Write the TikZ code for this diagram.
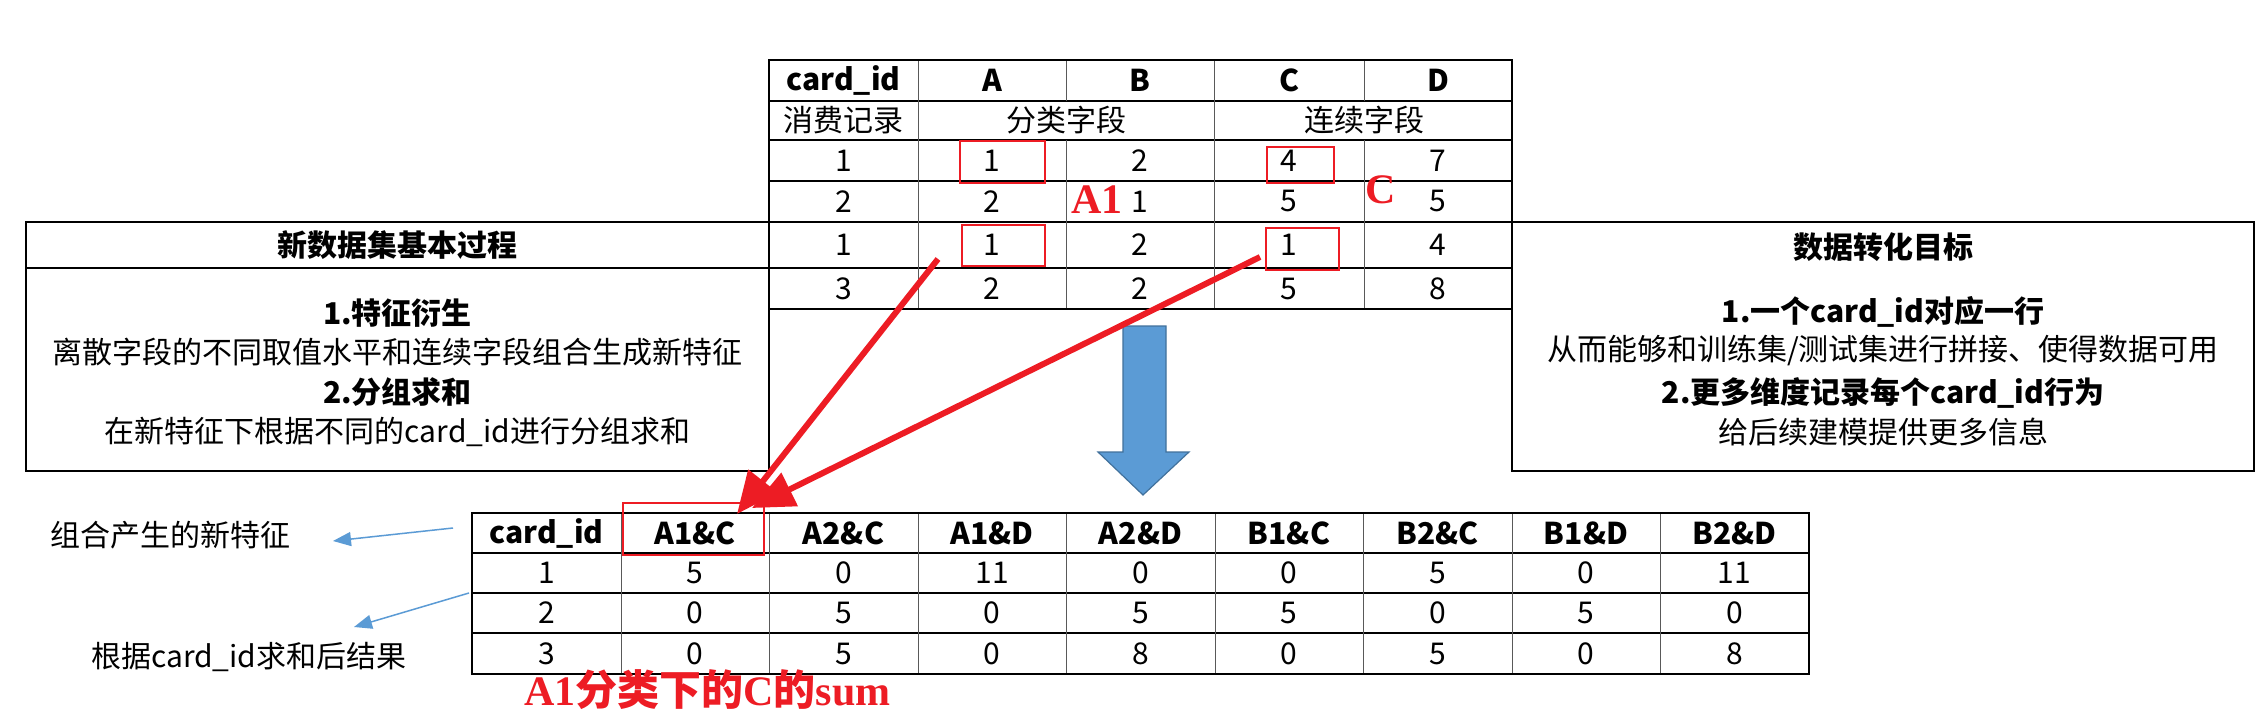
\documentclass[tikz,border=0pt]{standalone}
\usepackage{fontspec}
\setmainfont{Noto Sans CJK SC}
\newfontfamily\serifb{Liberation Serif}
\usetikzlibrary{arrows.meta}
\definecolor{myred}{HTML}{ED1C24}
\definecolor{myblue}{HTML}{5B9BD5}
\definecolor{myblueedge}{HTML}{41719C}
\definecolor{thinblue}{HTML}{5B9BD5}
\begin{document}
\begin{tikzpicture}[x=1pt,y=-1pt,
  txt/.style={inner sep=0pt,font=\fontsize{30}{36}\selectfont},
  btxt/.style={inner sep=0pt,font=\fontsize{30}{36}\selectfont\bfseries},
  redbox/.style={draw=myred,line width=2.5pt},
  redlbl/.style={inner sep=0pt,text=myred,font=\fontsize{42}{48}\selectfont\bfseries},
  grid/.style={line width=1.2pt,black},
  gridv/.style={line width=1pt,gray!70!black},
  redarrow/.style={draw=myred,line width=6pt,-{Triangle[length=42pt,width=36pt]}},
  bluearrow/.style={draw=thinblue,line width=1.5pt,-{Triangle[length=18pt,width=14pt]}}]
\useasboundingbox (0,0) rectangle (2260,722);
\fill[white] (0,0) rectangle (2260,722);

% ---------- top table ----------
\foreach \y in {101,140,181,222,268} \draw[grid] (769,\y) -- (1512,\y);
\draw[gridv] (918,60) -- (918,309);
\draw[gridv] (1066,60) -- (1066,101);
\draw[gridv] (1066,140) -- (1066,309);
\draw[gridv] (1214,60) -- (1214,309);
\draw[gridv] (1364,60) -- (1364,101);
\draw[gridv] (1364,140) -- (1364,309);
\draw[line width=1.6pt] (769,60) rectangle (1512,309);
\node[btxt] (hcid) at (843.5,80.5) {card\_id};
\node[btxt] (hA) at (992,80.5) {A};
\node[btxt] (hB) at (1140,80.5) {B};
\node[btxt] (hC) at (1289,80.5) {C};
\node[btxt] (hD) at (1438,80.5) {D};
\node[txt] (rec) at (843.5,120.5) {消费记录};
\node[txt] (cat) at (1066,120.5) {分类字段};
\node[txt] (con) at (1364,120.5) {连续字段};
\foreach \r/\yc/\a/\b/\c/\d/\e in {1/160.5/1/1/2/4/7, 2/201.5/2/2/1/5/5, 3/245/1/1/2/1/4, 4/288.5/3/2/2/5/8}{
  \node[txt] (t\r0) at (843.5,\yc) {\a};
  \node[txt] (t\r1) at (992,\yc) {\b};
  \node[txt] (t\r2) at (1140,\yc) {\c};
  \node[txt] (t\r3) at (1289,\yc) {\d};
  \node[txt] (t\r4) at (1438,\yc) {\e};
}
\draw[redbox] (960,141) rectangle (1045,183);
\draw[redbox] (962,225) rectangle (1045,266);
\draw[redbox] (1267,147) rectangle (1334,183);
\draw[redbox] (1266,228) rectangle (1339,270);
\node[redlbl,font=\fontsize{42}{48}\selectfont\serifb\bfseries] (lA1) at (1097,200) {A1};
\node[redlbl,font=\fontsize{42}{48}\selectfont\serifb\bfseries] (lC) at (1381,190) {C};

% ---------- left box ----------
\draw[line width=1.6pt] (26,222) rectangle (769,471);
\draw[line width=1.6pt] (26,268) -- (769,268);
\node[btxt] (ltitle) at (397.5,245) {新数据集基本过程};
\node[btxt] (l1) at (397.5,313) {1.特征衍生};
\node[txt] (l2) at (397.5,352) {离散字段的不同取值水平和连续字段组合生成新特征};
\node[btxt] (l3) at (397.5,392) {2.分组求和};
\node[txt] (l4) at (397.5,432) {在新特征下根据不同的card\_id进行分组求和};

% ---------- right box ----------
\draw[line width=1.6pt] (1512,222) rectangle (2254,471);
\node[btxt] (rtitle) at (1883,247) {数据转化目标};
\node[btxt] (r1) at (1883,312) {1.一个card\_id对应一行};
\node[txt] (r2) at (1883,351) {从而能够和训练集/测试集进行拼接、使得数据可用};
\node[btxt] (r3) at (1883,393) {2.更多维度记录每个card\_id行为};
\node[txt] (r4) at (1883,432) {给后续建模提供更多信息};

% ---------- blue block arrow ----------
\draw[fill=myblue,draw=myblueedge,line width=1.2pt]
  (1123,326) -- (1166,326) -- (1166,452) -- (1189,452) -- (1143,495) -- (1098,452) -- (1123,452) -- cycle;

% ---------- bottom table ----------
\foreach \y in {553,593,633} \draw[grid] (472,\y) -- (1809,\y);
\foreach \x in {621,769,918,1066,1215,1363,1512,1660} \draw[gridv] (\x,513) -- (\x,674);
\draw[line width=1.6pt] (472,513) rectangle (1809,674);
\foreach \i/\x/\h in {0/546.5/card\_id,1/695/A1\&C,2/843.5/A2\&C,3/992/A1\&D,4/1140.5/A2\&D,5/1289/B1\&C,6/1437.5/B2\&C,7/1586/B1\&D,8/1734.5/B2\&D}
  \node[btxt] (b0\i) at (\x,533) {\h};
\foreach \r/\yc/\a/\b/\c/\d/\e/\f/\g/\h/\k in {1/573/1/5/0/11/0/0/5/0/11, 2/613/2/0/5/0/5/5/0/5/0, 3/653.5/3/0/5/0/8/0/5/0/8}{
  \node[txt] (b\r0) at (546.5,\yc) {\a};
  \node[txt] (b\r1) at (695,\yc) {\b};
  \node[txt] (b\r2) at (843.5,\yc) {\c};
  \node[txt] (b\r3) at (992,\yc) {\d};
  \node[txt] (b\r4) at (1140.5,\yc) {\e};
  \node[txt] (b\r5) at (1289,\yc) {\f};
  \node[txt] (b\r6) at (1437.5,\yc) {\g};
  \node[txt] (b\r7) at (1586,\yc) {\h};
  \node[txt] (b\r8) at (1734.5,\yc) {\k};
}
\draw[redbox] (623,503) rectangle (764,555);
\node[redlbl,anchor=west] (sumlbl) at (524,690) {{\serifb A1}分类下的{\serifb C}的{\serifb sum}};

% ---------- red arrows ----------
\coordinate (ra1s) at (938,259);
\coordinate (ra1e) at (737,514);
\coordinate (ra2s) at (1260,257);
\coordinate (ra2e) at (752,508);
\draw[redarrow] (ra1s) -- (ra1e);
\draw[redarrow] (ra2s) -- (ra2e);

% ---------- side labels ----------
\node[txt,anchor=west] (newfeat) at (50,535) {组合产生的新特征};
\node[txt,anchor=west] (result) at (91,657) {根据card\_id求和后结果};
\coordinate (ba1s) at (453,528);
\coordinate (ba1e) at (333,541);
\coordinate (ba2s) at (469,593);
\coordinate (ba2e) at (354,627);
\draw[bluearrow] (ba1s) -- (ba1e);
\draw[bluearrow] (ba2s) -- (ba2e);
\end{tikzpicture}
\end{document}
